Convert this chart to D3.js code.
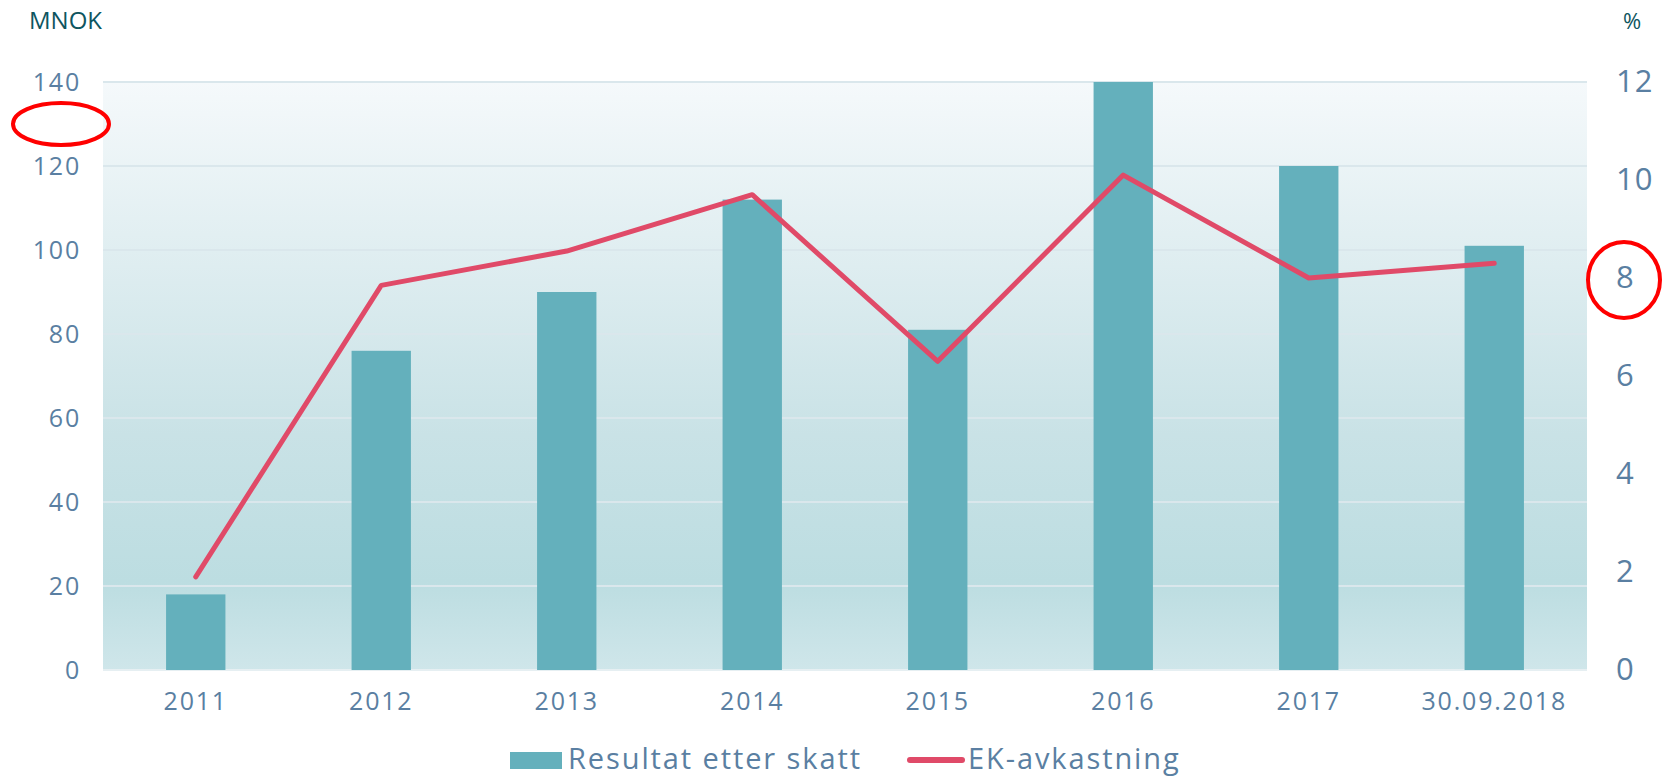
<!DOCTYPE html>
<html>
<head>
<meta charset="utf-8">
<script src="https://cdn.jsdelivr.net/npm/d3@7"></script>
<style>
  body { margin: 0; background: #fff; }
  text { font-family: "Open Sans", sans-serif; }
</style>
</head>
<body>
<div id="chart-area"></div>
<script>
const WIDTH = 1670;
const HEIGHT = 776;
const LEFT = 103;
const RIGHT = 1587;
const TOP = 82;
const BOTTOM = 670;

const categories = ['2011', '2012', '2013', '2014', '2015', '2016', '2017', '30.09.2018'];
const resultat = [18, 76, 90, 112, 81, 140, 120, 101];
const ekAvkastning = [1.9, 7.85, 8.55, 9.7, 6.3, 10.1, 8.0, 8.3];
const leftTicks = [0, 20, 40, 60, 80, 100, 120, 140];
const rightTicks = [0, 2, 4, 6, 8, 10, 12];

const TEXT_COLOR = '#5a7fa2';

main();

function main() {
  const svg = d3.select('#chart-area').append('svg')
    .attr('width', WIDTH)
    .attr('height', HEIGHT);
  showGraph(svg);
}

function showGraph(svg) {
  const scaleX = d3.scaleBand()
    .domain(categories)
    .range([LEFT, RIGHT])
    .paddingInner(0.68)
    .paddingOuter(0.34);
  const scaleY = d3.scaleLinear().domain([0, 140]).range([BOTTOM, TOP]);
  const scaleY2 = d3.scaleLinear().domain([0, 12]).range([BOTTOM, TOP]);

  const defs = svg.append('defs');
  const grad = defs.append('linearGradient')
    .attr('id', 'bg')
    .attr('x1', 0).attr('y1', 0).attr('x2', 0).attr('y2', 1);
  grad.append('stop').attr('offset', '0%').attr('stop-color', '#f5f9fb');
  grad.append('stop').attr('offset', '60%').attr('stop-color', '#c9e2e6');
  grad.append('stop').attr('offset', '85%').attr('stop-color', '#bcdde1');
  grad.append('stop').attr('offset', '100%').attr('stop-color', '#cfe6ea');

  svg.append('rect')
    .attr('x', LEFT)
    .attr('y', TOP)
    .attr('width', RIGHT - LEFT)
    .attr('height', BOTTOM - TOP)
    .attr('fill', 'url(#bg)');

  // grid
  svg.append('g')
    .selectAll('line')
    .data(leftTicks)
    .enter()
    .append('line')
    .attr('x1', LEFT)
    .attr('x2', RIGHT)
    .attr('y1', d => scaleY(d))
    .attr('y2', d => scaleY(d))
    .attr('stroke', d => d === 0 ? '#e6eff2' : '#dae7ec')
    .attr('stroke-width', 2);

  // bars
  svg.append('g')
    .selectAll('rect')
    .data(resultat)
    .enter()
    .append('rect')
    .attr('x', (d, i) => scaleX(categories[i]))
    .attr('y', d => scaleY(d))
    .attr('width', scaleX.bandwidth())
    .attr('height', d => scaleY(0) - scaleY(d))
    .attr('fill', '#64b0bc');

  // line
  const line = d3.line()
    .x((d, i) => scaleX(categories[i]) + scaleX.bandwidth() / 2)
    .y(d => scaleY2(d));
  svg.append('path')
    .datum(ekAvkastning)
    .attr('d', line)
    .attr('fill', 'none')
    .attr('stroke', '#e04a68')
    .attr('stroke-width', 5)
    .attr('stroke-linecap', 'round')
    .attr('stroke-linejoin', 'round');

  // axes
  const axisLeftCall = d3.axisLeft(scaleY).tickValues(leftTicks).tickSize(0).tickPadding(22);
  const gl = svg.append('g')
    .attr('transform', `translate(${ LEFT }, 0)`)
    .call(axisLeftCall);

  const axisRightCall = d3.axisRight(scaleY2).tickValues(rightTicks).tickSize(0).tickPadding(29);
  const gr = svg.append('g')
    .attr('transform', `translate(${ RIGHT }, 0)`)
    .call(axisRightCall);

  const axisBottomCall = d3.axisBottom(scaleX).tickSize(0).tickPadding(22);
  const gb = svg.append('g')
    .attr('transform', `translate(0, ${ BOTTOM })`)
    .call(axisBottomCall);

  [gl, gb].forEach(g => {
    g.select('.domain').remove();
    g.selectAll('text')
      .attr('fill', TEXT_COLOR)
      .style('font-size', '25px')
      .style('font-family', '"Open Sans", sans-serif')
      .style('letter-spacing', '1.8px');
  });
  gr.select('.domain').remove();
  gr.selectAll('text')
    .attr('fill', TEXT_COLOR)
    .style('font-size', '31px')
    .style('letter-spacing', '1px')
    .style('font-family', '"Open Sans", sans-serif');

  // units
  svg.append('text')
    .attr('x', 29)
    .attr('y', 29)
    .attr('fill', '#0e5560')
    .style('font-size', '24px')
    .text('MNOK');
  svg.append('text')
    .attr('x', 1632)
    .attr('y', 29)
    .attr('text-anchor', 'middle')
    .attr('fill', '#0e5560')
    .style('font-size', '22px')
    .text('%');

  // legend
  const lg = svg.append('g');
  lg.append('rect')
    .attr('x', 510).attr('y', 752)
    .attr('width', 52).attr('height', 17)
    .attr('fill', '#64b0bc');
  lg.append('text')
    .attr('x', 568).attr('y', 769)
    .attr('fill', TEXT_COLOR)
    .style('font-size', '29px')
    .style('letter-spacing', '1.9px')
    .text('Resultat etter skatt');
  lg.append('line')
    .attr('x1', 910).attr('x2', 962)
    .attr('y1', 760).attr('y2', 760)
    .attr('stroke', '#e04a68')
    .attr('stroke-width', 6)
    .attr('stroke-linecap', 'round');
  lg.append('text')
    .attr('x', 968).attr('y', 769)
    .attr('fill', TEXT_COLOR)
    .style('font-size', '29px')
    .style('letter-spacing', '1.9px')
    .text('EK-avkastning');

  // red annotation marks
  svg.append('ellipse')
    .attr('cx', 61).attr('cy', 124)
    .attr('rx', 48).attr('ry', 21)
    .attr('fill', 'none')
    .attr('stroke', '#ff0000')
    .attr('stroke-width', 4);
  svg.append('ellipse')
    .attr('cx', 1624).attr('cy', 280)
    .attr('rx', 36).attr('ry', 38)
    .attr('fill', 'none')
    .attr('stroke', '#ff0000')
    .attr('stroke-width', 4);
}
</script>
</body>
</html>
